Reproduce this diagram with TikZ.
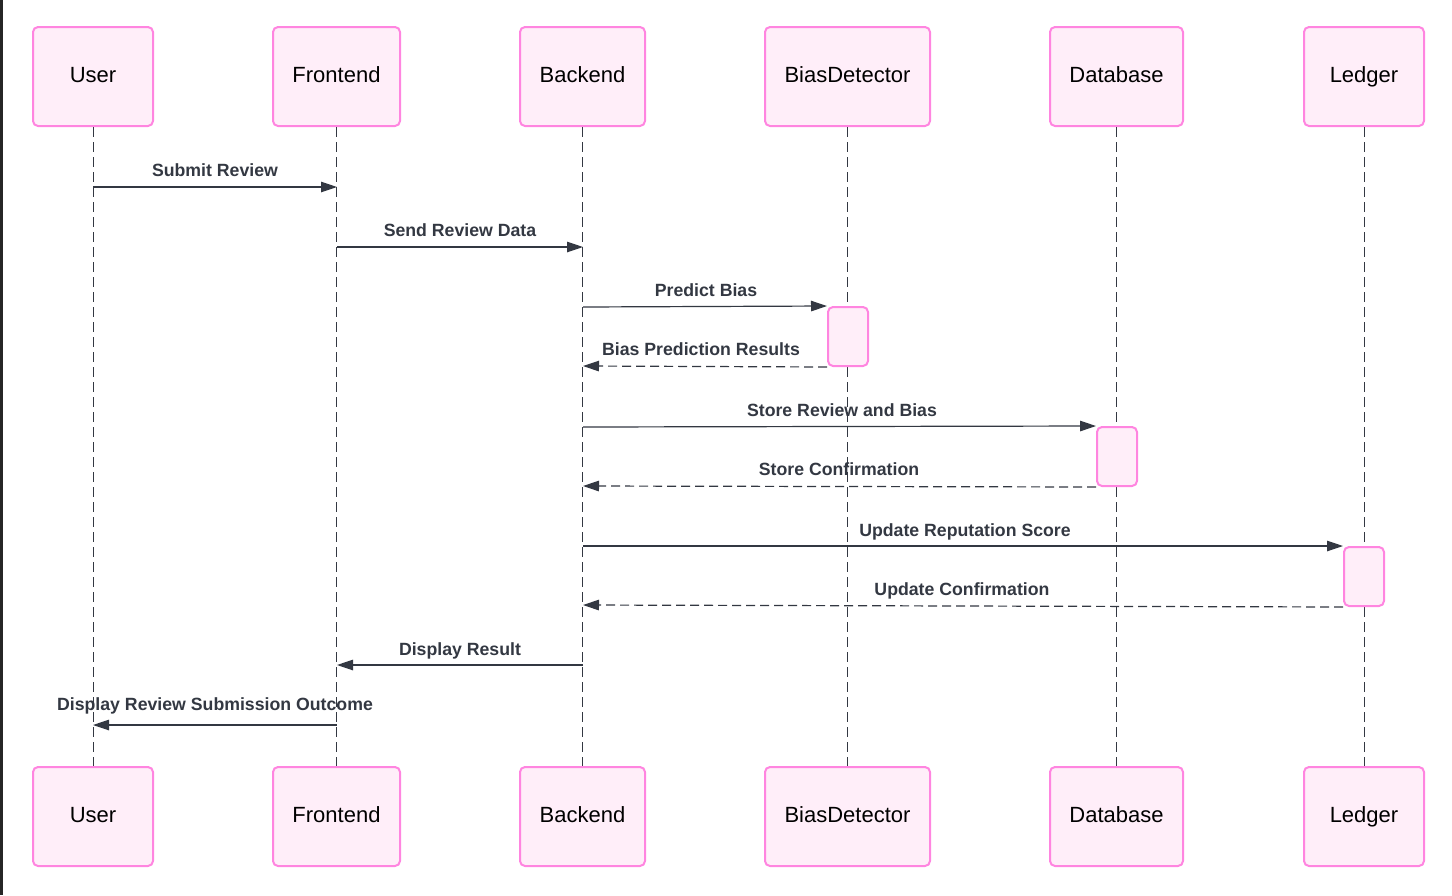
\documentclass[tikz,border=0pt]{standalone}
\usepackage{fontspec}
\setmainfont{Liberation Sans}
\usetikzlibrary{arrows.meta}
\definecolor{actorfill}{HTML}{FFEEF9}
\definecolor{actorline}{HTML}{FF85E0}
\definecolor{msgcol}{HTML}{333842}
\begin{document}
\begin{tikzpicture}[x=1pt,y=-1pt,
  actor/.style={draw=actorline, fill=actorfill, line width=2pt, rounded corners=5pt,
    minimum height=99pt, inner sep=0pt, text height=16pt, text depth=5pt,
    font=\fontsize{22}{24}\selectfont},
  lifeline/.style={draw=msgcol, line width=1pt, dash pattern=on 10pt off 5pt},
  activation/.style={draw=actorline, fill=actorfill, line width=2pt, rounded corners=5pt,
    minimum width=40pt, minimum height=59pt, inner sep=0pt},
  msg/.style={draw=msgcol, line width=1.2pt, -{Triangle[length=16pt,width=10.5pt]}},
  reply/.style={msg, dash pattern=on 9pt off 5pt},
  msglabel/.style={text=msgcol, font=\bfseries\fontsize{17.7}{20}\selectfont, anchor=base, inner sep=0pt}]
\useasboundingbox (0,0) rectangle (1452,895);
\fill[black!85] (0,0) rectangle (2.5,895);

% participants, top row
\node[actor, minimum width=120pt] (userT) at (93,76.5) {User};
\node[actor, minimum width=127pt] (frontT) at (336.5,76.5) {Frontend};
\node[actor, minimum width=125pt] (backT) at (582.5,76.5) {Backend};
\node[actor, minimum width=165pt] (biasT) at (847.5,76.5) {BiasDetector};
\node[actor, minimum width=133pt] (dbT) at (1116.5,76.5) {Database};
\node[actor, minimum width=120pt] (ledgerT) at (1364,76.5) {Ledger};

% participants, bottom row
\node[actor, minimum width=120pt] (userB) at (93,816.5) {User};
\node[actor, minimum width=127pt] (frontB) at (336.5,816.5) {Frontend};
\node[actor, minimum width=125pt] (backB) at (582.5,816.5) {Backend};
\node[actor, minimum width=165pt] (biasB) at (847.5,816.5) {BiasDetector};
\node[actor, minimum width=133pt] (dbB) at (1116.5,816.5) {Database};
\node[actor, minimum width=120pt] (ledgerB) at (1364,816.5) {Ledger};

% message end points on the lifelines
\coordinate (u1) at (93,187);   \coordinate (f1) at (337,187);
\coordinate (f2) at (337,247);  \coordinate (b2) at (583,247);
\coordinate (b3) at (583,307);
\coordinate (b4) at (583,366);
\coordinate (b5) at (583,427);
\coordinate (b6) at (583,486);
\coordinate (b7) at (583,546);
\coordinate (b8) at (583,605);
\coordinate (b9) at (583,665);  \coordinate (f9) at (337,665);
\coordinate (f10) at (337,725); \coordinate (u10) at (93,725);

% messages
\draw[msg] (u1) -- (f1);
\node[msglabel] (m1) at (215,176) {Submit Review};
\draw[msg] (f2) -- (b2);
\node[msglabel] (m2) at (460,236) {Send Review Data};
\node[msglabel] (m3) at (706,296) {Predict Bias};
\node[msglabel] (m4) at (701,355) {Bias Prediction Results};
\node[msglabel] (m5) at (842,416) {Store Review and Bias};
\node[msglabel] (m6) at (839,475) {Store Confirmation};
\node[msglabel] (m7) at (965,536) {Update Reputation Score};
\node[msglabel] (m8) at (962,595) {Update Confirmation};
\draw[msg] (b9) -- (f9);
\node[msglabel] (m9) at (460,655) {Display Result};
\draw[msg] (f10) -- (u10);
\node[msglabel] (m10) at (215,710) {Display Review Submission Outcome};

% lifelines
\draw[lifeline] (userT.south) -- (userB.north);
\draw[lifeline] (frontT.south) -- (frontB.north);
\draw[lifeline] (backT.south) -- (backB.north);
\draw[lifeline] (biasT.south) -- (biasB.north);
\draw[lifeline] (dbT.south) -- (dbB.north);
\draw[lifeline] (ledgerT.south) -- (ledgerB.north);

% activations
\node[activation] (act1) at (848,336.5) {};
\node[activation] (act2) at (1117,456.5) {};
\node[activation] (act3) at (1364,576.5) {};

% calls into and replies from the activations
\draw[msg] (b3) -- (act1.north west);
\draw[reply] (act1.south west) -- (b4);
\draw[msg] (b5) -- (act2.north west);
\draw[reply] (act2.south west) -- (b6);
\draw[msg] (b7) -- (act3.north west);
\draw[reply] (act3.south west) -- (b8);
\end{tikzpicture}
\end{document}
